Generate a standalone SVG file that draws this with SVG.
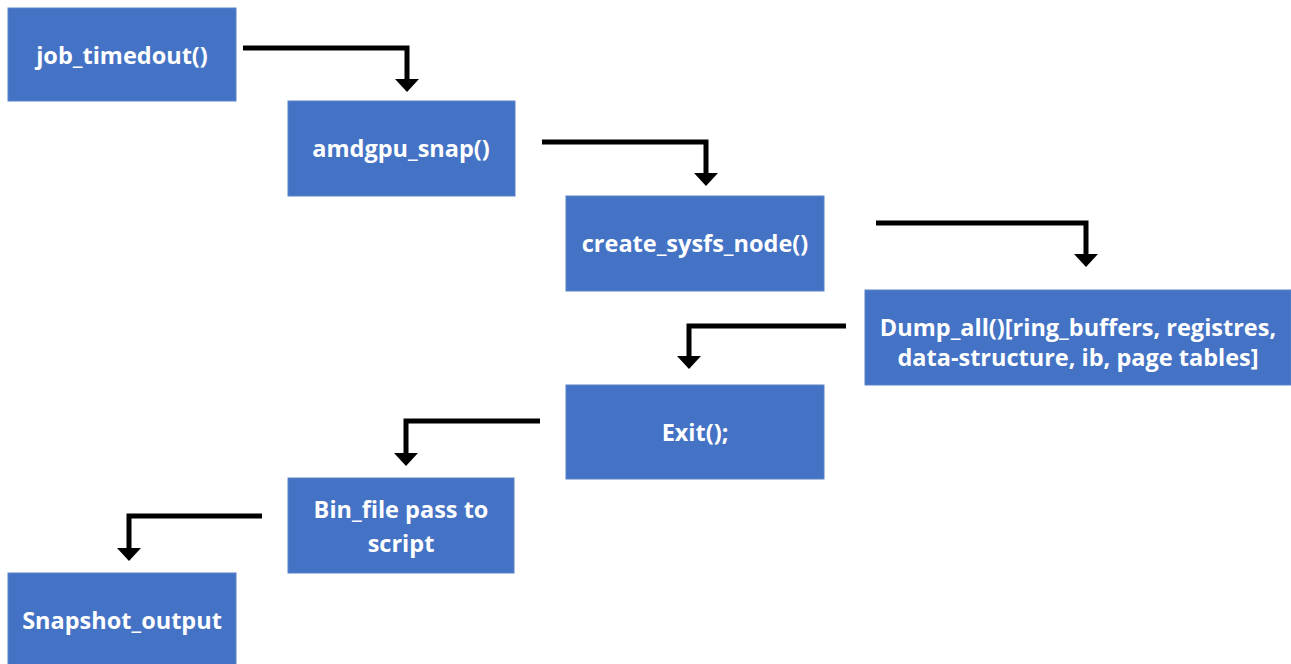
<svg xmlns="http://www.w3.org/2000/svg" width="1291" height="664" viewBox="0 0 1291 664">
<defs>
<style>
.box{fill:#4472C4;stroke:#5a82c8;stroke-width:1}
.lbl{font-family:"Open Sans","Liberation Sans",sans-serif;font-weight:bold;font-size:23.5px;fill:#fff;text-anchor:middle}
.con{fill:none;stroke:#000;stroke-width:5;stroke-linejoin:miter}
.head{fill:#000}
</style>
</defs>
<rect width="1291" height="664" fill="#fff"/>
<g id="connectors">
<path class="con" d="M243 48 H407 V80"/><polygon class="head" points="395,79 419,79 407,92"/>
<path class="con" d="M542 142 H706 V174"/><polygon class="head" points="694,173 718,173 706,186"/>
<path class="con" d="M876 223 H1086 V255"/><polygon class="head" points="1074,254 1098,254 1086,267"/>
<path class="con" d="M846 326 H689 V357"/><polygon class="head" points="677,356 701,356 689,369"/>
<path class="con" d="M540 421 H406 V454"/><polygon class="head" points="394,453 418,453 406,466"/>
<path class="con" d="M262 516 H129 V549"/><polygon class="head" points="117,548 141,548 129,561"/>
</g>
<g id="n1"><rect class="box" x="8" y="8" width="228" height="93"/><text class="lbl" x="122" y="64">job_timedout()</text></g>
<g id="n2"><rect class="box" x="288" y="101" width="227" height="95"/><text class="lbl" x="401" y="157">amdgpu_snap()</text></g>
<g id="n3"><rect class="box" x="566" y="196" width="258" height="95"/><text class="lbl" x="695" y="252">create_sysfs_node()</text></g>
<g id="n4"><rect class="box" x="865" y="290" width="426" height="95"/><text class="lbl" x="1078" y="336">Dump_all()[ring_buffers, registres,</text><text class="lbl" x="1078" y="366">data-structure, ib, page tables]</text></g>
<g id="n5"><rect class="box" x="566" y="385" width="258" height="94"/><text class="lbl" x="695" y="441">Exit();</text></g>
<g id="n6"><rect class="box" x="288" y="478" width="226" height="95"/><text class="lbl" x="401" y="518">Bin_file pass to</text><text class="lbl" x="401" y="552">script</text></g>
<g id="n7"><rect class="box" x="8" y="573" width="228" height="95"/><text class="lbl" x="122" y="629">Snapshot_output</text></g>
</svg>
